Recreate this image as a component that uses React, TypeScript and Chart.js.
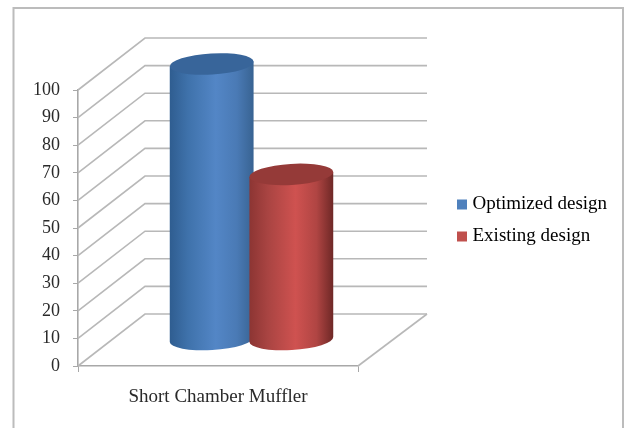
import React, { useEffect, useRef } from "react";
import { Chart, registerables } from "chart.js";

Chart.register(...registerables);

const categories = ["Short Chamber Muffler"];
const optimizedDesign = [100];
const existingDesign = [60];
const seriesNames = ["Optimized design", "Existing design"];
const swatchColors = ["#4f81bd", "#c0504d"];
const capColors = ["#38659a", "#953a38"];
const bodyStops = [
  ["#2f5d90", "#3f72ab", "#5386c6", "#4a7ab5", "#386392"],
  ["#8c3533", "#a94442", "#cf5250", "#b04543", "#6e2826"],
];
const stopOffsets = [0, 0.22, 0.55, 0.8, 1];

const GRID = "#b8b8b8";
const DEPTH_X = 67;
const DEPTH_Y = 52;

// Side walls and floor of the box: each y tick gets an oblique and a back line.
const wallsPlugin = {
  id: "walls",
  beforeDatasetsDraw(chart: any) {
    const { ctx, chartArea, scales } = chart;
    ctx.save();
    ctx.strokeStyle = GRID;
    ctx.lineWidth = 1.6;
    for (const tick of scales.y.ticks) {
      const y = scales.y.getPixelForValue(tick.value);
      ctx.beginPath();
      ctx.moveTo(chartArea.left, y);
      ctx.lineTo(chartArea.left + DEPTH_X, y - DEPTH_Y);
      ctx.lineTo(chartArea.right + DEPTH_X + 2, y - DEPTH_Y);
      ctx.stroke();
    }
    const floorY = scales.y.getPixelForValue(0);
    ctx.beginPath();
    ctx.moveTo(chartArea.right, floorY);
    ctx.lineTo(chartArea.right + DEPTH_X + 2, floorY - DEPTH_Y);
    ctx.stroke();
    ctx.restore();
  },
};

// Draws one bar element as a slightly tilted cylinder standing mid-depth on the floor.
function drawCylinder(ctx: CanvasRenderingContext2D, bar: any, i: number) {
  const cx = bar.x + DEPTH_X / 2;
  const rx = bar.width / 2;
  const ry = 10.5;
  const tilt = (-3.4 * Math.PI) / 180;
  const dy = Math.sin(tilt) * rx;
  const dx = Math.cos(tilt) * rx;
  const topY = bar.y - DEPTH_Y / 2;
  const baseY = bar.base - DEPTH_Y / 2;

  const grad = ctx.createLinearGradient(cx - rx, 0, cx + rx, 0);
  bodyStops[i].forEach((c, k) => grad.addColorStop(stopOffsets[k], c));

  ctx.beginPath();
  ctx.moveTo(cx - dx, topY - dy);
  ctx.lineTo(cx + dx, topY + dy);
  ctx.lineTo(cx + dx, baseY + dy);
  ctx.ellipse(cx, baseY, rx, ry, tilt, 0, Math.PI);
  ctx.closePath();
  ctx.fillStyle = grad;
  ctx.fill();

  ctx.beginPath();
  ctx.ellipse(cx, topY, rx, ry, tilt, 0, Math.PI * 2);
  ctx.fillStyle = capColors[i];
  ctx.fill();
}

// Flat bars are skipped; the cylinders go down in series order so the later one overlaps.
const cylinderPlugin = {
  id: "cylinder",
  beforeDatasetDraw() {
    return false;
  },
  afterDatasetsDraw(chart: any) {
    const { ctx } = chart;
    ctx.save();
    chart.data.datasets.forEach((_: any, i: number) => {
      drawCylinder(ctx, chart.getDatasetMeta(i).data[0], i);
    });
    ctx.restore();
  },
};

// Pins the legend to its spot right of the plot and draws the outer frame.
const framePlugin = {
  id: "frame",
  afterLayout(chart: any) {
    const legend = chart.legend;
    legend.left = 448;
    legend.right = 620;
    legend.top = 182;
    legend.bottom = 270;
    legend.width = legend.right - legend.left;
    legend.height = legend.bottom - legend.top;
  },
  beforeDraw(chart: any) {
    const { ctx, width, height } = chart;
    ctx.save();
    ctx.fillStyle = "#ffffff";
    ctx.fillRect(0, 0, width, height);
    ctx.strokeStyle = "#bcbcbc";
    ctx.lineWidth = 2;
    ctx.beginPath();
    ctx.moveTo(13.5, height);
    ctx.lineTo(13.5, 8);
    ctx.lineTo(623, 8);
    ctx.lineTo(623, height);
    ctx.stroke();
    ctx.restore();
  },
};

export default function App() {
  const ref = useRef<HTMLCanvasElement>(null);

  useEffect(() => {
    const family = "'Liberation Serif', serif";
    const chart = new Chart(ref.current!, {
      type: "bar",
      data: {
        labels: categories,
        datasets: [
          { label: seriesNames[0], data: optimizedDesign, backgroundColor: swatchColors[0] },
          { label: seriesNames[1], data: existingDesign, backgroundColor: swatchColors[1] },
        ],
      },
      plugins: [framePlugin, wallsPlugin, cylinderPlugin],
      options: {
        animation: false,
        responsive: false,
        categoryPercentage: 0.569,
        barPercentage: 1.054,
        layout: { padding: { left: 0, top: 90, right: 266, bottom: 22 } },
        scales: {
          x: {
            afterFit(scale: any) {
              scale.height = 40;
            },
            border: { color: "#a8a8a8", width: 1.6 },
            grid: { drawOnChartArea: false, tickLength: 6, color: "#a8a8a8", offset: true },
            ticks: {
              color: "#2a2a2a",
              font: { family, size: 19 },
              padding: 13.5,
              maxRotation: 0,
              autoSkip: false,
            },
          },
          y: {
            min: 0,
            max: 100,
            afterFit(scale: any) {
              scale.width = 78;
            },
            border: { color: "#a8a8a8", width: 1.6 },
            grid: { drawOnChartArea: false, tickLength: 5, color: "#a8a8a8" },
            ticks: { stepSize: 10, color: "#2a2a2a", font: { family, size: 18 }, padding: 13 },
          },
        },
        plugins: {
          title: { display: false },
          tooltip: { enabled: false },
          legend: {
            position: "chartArea",
            align: "start",
            labels: {
              color: "#2a2a2a",
              font: { family, size: 19 },
              boxWidth: 2,
              boxHeight: 2,
              padding: 13,
              generateLabels: () =>
                seriesNames.map((text, i) => ({
                  text,
                  fillStyle: swatchColors[i],
                  strokeStyle: swatchColors[i],
                  lineWidth: 8,
                  datasetIndex: i,
                })),
            },
          },
        },
      },
    } as any);
    return () => chart.destroy();
  }, []);

  return (
    <div style={{ position: "absolute", left: 0, top: 0, width: 624, height: 428 }}>
      <canvas ref={ref} width={624} height={428} style={{ display: "block" }} />
    </div>
  );
}
